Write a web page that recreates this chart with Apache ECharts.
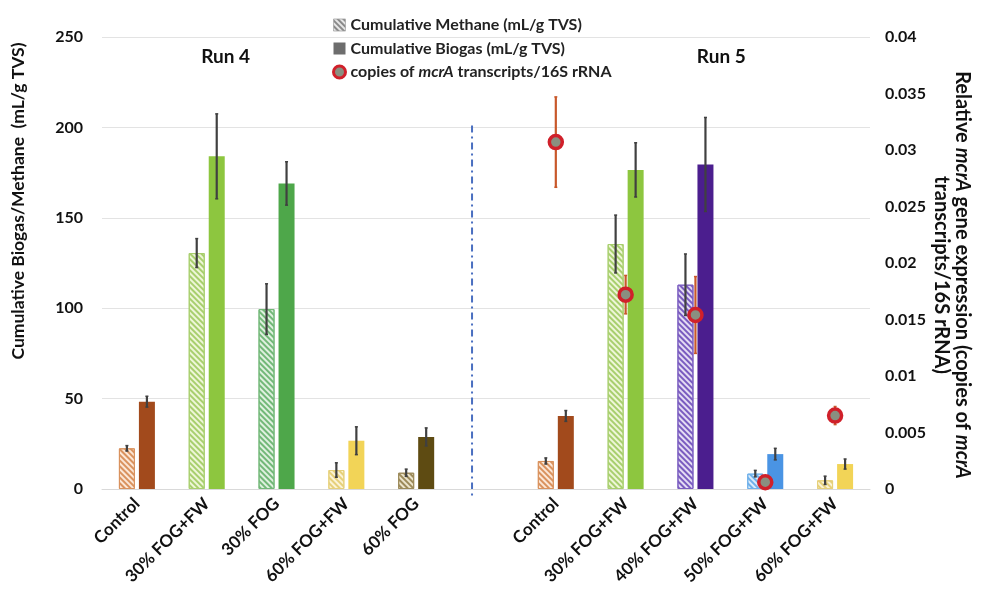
<!DOCTYPE html>
<html><head><meta charset="utf-8">
<script src="https://cdn.jsdelivr.net/npm/echarts@6/dist/echarts.min.js"></script>
<style>html,body{margin:0;padding:0;background:#fff}#c{width:995px;height:600px}</style>
</head><body><div id="c"></div>
<script>
// ---- data ----
const categories = ['Control','30% FOG+FW','30% FOG','60% FOG+FW','60% FOG','','Control','30% FOG+FW','40% FOG+FW','50% FOG+FW','60% FOG+FW'];
const methane    = [22.5, 130.5, 99.5, 10.5, 9.0, null, 15.5, 135.5, 113.0, 8.5, 4.8];
const methaneErr = [1.5, 8, 14, 4, 2, null, 1.7, 16, 17, 1.8, 2.3];
const biogas     = [48.3, 184, 169, 26.7, 28.8, null, 40.4, 176.5, 179.5, 19.3, 13.8];
const biogasErr  = [3, 23.5, 12, 7.7, 5, null, 3, 15, 26, 3.2, 2.8];
const mcrA       = [null, null, null, null, null, null, 0.0307, 0.0172, 0.0154, 0.0006, 0.0065];
const mcrAErr    = [null, null, null, null, null, null, 0.0040, 0.0017, 0.0034, 0, 0.0008];
const leftTicks  = {min: 0, max: 250, interval: 50};
const rightTicks = {min: 0, max: 0.04, interval: 0.005};
const runLabels  = ['Run 4', 'Run 5'];
const legendNames = ['Cumulative Methane (mL/g TVS)', 'Cumulative Biogas (mL/g TVS)', 'copies of mcrA transcripts/16S rRNA'];

// ---- styles ----
const methaneFill   = ['#fbe6d6','#eef6d8','#dff0df','#fbf3d6','#ece4cc',null,'#fbe6d6','#eef6d8','#e4dcf3','#dcecfa','#fbf3d6'];
const methaneStripe = ['#d9925e','#a8cf6e','#72b878','#e6d07a','#9c8a5a',null,'#d9925e','#a8cf6e','#7a5cc0','#6fb0ea','#e6d07a'];
const biogasColor   = ['#a24a1c','#8dc63f','#4ea74a','#f2d457','#5e4b12',null,'#a24a1c','#8dc63f','#4b1e8e','#4a94e4','#f2d457'];
const FONT = 'Lato';
const BAR_W = 16, BAR_GAP = 4;

function decal(c){ return {symbol:'rect', symbolSize:1, dashArrayX:[1,0], dashArrayY:[1.5,2], rotation:Math.PI/4, color:c}; }

const chart = echarts.init(document.getElementById('c'), null, {renderer:'canvas'});

const methaneData = methane.map((v,i)=> v==null ? '-' : ({value:v, itemStyle:{color:methaneFill[i], borderColor:methaneStripe[i], borderWidth:1, decal:decal(methaneStripe[i])}}));
const biogasData  = biogas.map((v,i)=> v==null ? '-' : ({value:v, itemStyle:{color:biogasColor[i]}}));
const errData = (vals, errs) => vals.map((v,i)=> v==null ? [i,'-','-'] : [i, v-errs[i], v+errs[i]]);

function errSeries(name, data, yIdx, offset, color){
  return {
    type:'custom', name:name, xAxisIndex:0, yAxisIndex:yIdx, z:5, silent:true,
    encode:{x:0, y:[1,2]},
    data:data,
    renderItem:function(params, api){
      const lo = api.value(1), hi = api.value(2);
      if (isNaN(lo) || isNaN(hi) || hi-lo <= 0) return null;
      const p1 = api.coord([api.value(0), lo]);
      const p2 = api.coord([api.value(0), hi]);
      const x = p1[0] + offset;
      return {type:'group', children:[
        {type:'line', shape:{x1:x, y1:p1[1], x2:x, y2:p2[1]}, style:{stroke:color, lineWidth:2.2}},
        {type:'line', shape:{x1:x-1.5, y1:p1[1], x2:x+1.5, y2:p1[1]}, style:{stroke:color, lineWidth:1.5}},
        {type:'line', shape:{x1:x-1.5, y1:p2[1], x2:x+1.5, y2:p2[1]}, style:{stroke:color, lineWidth:1.5}}
      ]};
    }
  };
}

const option = {
  animation:false,
  backgroundColor:'#fff',
  textStyle:{fontFamily:FONT},
  grid:{left:102, right:125, top:37, bottom:111, containLabel:false},
  legend:{
    orient:'vertical', left:327, top:10, itemGap:3.5, itemWidth:12, itemHeight:12,
    textStyle:{fontFamily:FONT, fontSize:16, lineHeight:20, fontWeight:'bold', color:'#222',
      rich:{i:{fontFamily:FONT, fontSize:16, lineHeight:20, fontWeight:'bold', fontStyle:'italic', color:'#222'}}},
    formatter:function(n){ return n.replace('mcrA', '{i|mcrA}'); },
    data:[
      {name:legendNames[0], icon:'rect', itemStyle:{color:'#e6e6e6', decal:decal('#8a8a8a'), borderColor:'#aaa', borderWidth:0.5}},
      {name:legendNames[1], icon:'rect', itemStyle:{color:'#6d6d6d'}},
      {name:legendNames[2], icon:'circle', itemStyle:{color:'#8a8f80', borderColor:'#d0202a', borderWidth:3}}
    ]
  },
  xAxis:{
    type:'category', data:categories,
    axisLine:{lineStyle:{color:'#d9d9d9'}}, axisTick:{show:false},
    axisLabel:{rotate:45, interval:0, margin:12, fontFamily:FONT, fontSize:17, fontWeight:'bold', color:'#111'}
  },
  yAxis:[
    {type:'value', min:leftTicks.min, max:leftTicks.max, interval:leftTicks.interval,
     axisLine:{show:false}, axisTick:{show:false},
     splitLine:{lineStyle:{color:'#e3e3e3'}},
     axisLabel:{margin:19, fontFamily:FONT, fontSize:16, fontWeight:'bold', color:'#111'}},
    {type:'value', min:rightTicks.min, max:rightTicks.max, interval:rightTicks.interval,
     axisLine:{show:false}, axisTick:{show:false}, splitLine:{show:false},
     axisLabel:{margin:15, fontFamily:FONT, fontSize:16, fontWeight:'bold', color:'#111',
       formatter:function(v){ return String(+v.toFixed(3)); }}}
  ],
  series:[
    {type:'bar', name:legendNames[0], data:methaneData, barWidth:BAR_W, barGap:(BAR_GAP/BAR_W*100)+'%',
     itemStyle:{color:'#e6e6e6', decal:decal('#8a8a8a')}},
    {type:'bar', name:legendNames[1], data:biogasData, barWidth:BAR_W, itemStyle:{color:'#6d6d6d'}},
    errSeries('mErr', errData(methane, methaneErr), 0, -(BAR_W+BAR_GAP)/2, '#404040'),
    errSeries('bErr', errData(biogas, biogasErr), 0, (BAR_W+BAR_GAP)/2, '#404040'),
    errSeries('cErr', errData(mcrA, mcrAErr), 1, 0, '#c8582a'),
    {type:'scatter', name:legendNames[2], yAxisIndex:1, z:10, data:mcrA.map(v=> v==null ? '-' : v),
     symbol:'circle', symbolSize:13, itemStyle:{color:'#8a8f80', borderColor:'#d0202a', borderWidth:3.5, opacity:1}}
  ]
};
chart.setOption(option);

// run labels, axis names and divider (positions derived from the axes)
const xc = i => chart.convertToPixel({xAxisIndex:0}, i);
const yl = v => chart.convertToPixel({yAxisIndex:0}, v);
const slot = xc(1) - xc(0);
const divX = xc(5) - 0.2*slot;
const runY = yl(239);
chart.setOption({graphic:[
  {type:'text', x:xc(1)+0.27*slot, y:runY, style:{text:runLabels[0], font:'bold 19px '+FONT, fill:'#111', textAlign:'center', textVerticalAlign:'middle'}},
  {type:'text', x:xc(8)+0.37*slot, y:runY, style:{text:runLabels[1], font:'bold 19px '+FONT, fill:'#111', textAlign:'center', textVerticalAlign:'middle'}},
  {type:'line', shape:{x1:divX, y1:yl(201), x2:divX, y2:yl(-4.5)}, style:{stroke:'#4a6fc0', lineWidth:2, lineDash:[7,4,2,4]}},
  {type:'text', x:18, y:201, rotation:Math.PI/2,
   style:{text:'Cumulative Biogas/Methane  (mL/g TVS)', font:'bold 17.5px '+FONT, fill:'#111', textAlign:'center', textVerticalAlign:'middle'}},
  {type:'text', x:952, y:275, rotation:-Math.PI/2,
   style:{text:'{a|Relative }{i|mcrA}{a| gene expression (copies of }{i|mcrA}\n{a|transcripts/16S rRNA)}',
     textAlign:'center', textVerticalAlign:'middle', align:'center', verticalAlign:'middle', lineHeight:21,
     rich:{a:{font:'bold 20px '+FONT, fill:'#111', lineHeight:21}, i:{font:'italic bold 20px '+FONT, fill:'#111', lineHeight:21}}}}
]});
</script></body></html>
